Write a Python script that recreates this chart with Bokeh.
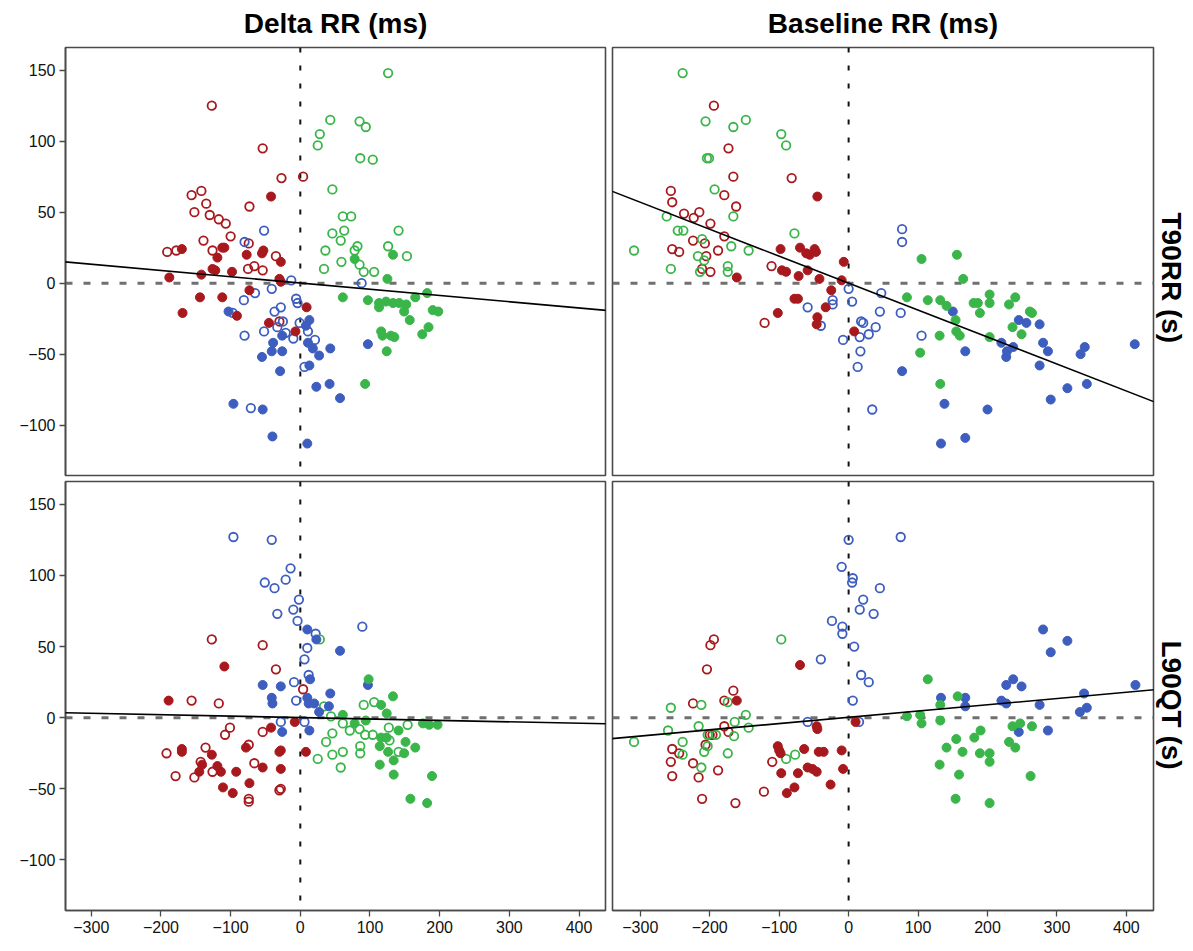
from bokeh.plotting import figure
from bokeh.models import Range1d, FixedTicker, Span, Slope, Title
from bokeh.layouts import column, row
from bokeh.embed import file_html
from bokeh.resources import INLINE

COL_TITLES = ["Delta RR (ms)", "Baseline RR (ms)"]
ROW_TITLES = ["T90RR (s)", "L90QT (s)"]
X_TICKS = [-300, -200, -100, 0, 100, 200, 300, 400]
Y_TICKS = [-100, -50, 0, 50, 100, 150]

RED = "#A8191E"
BLUE = "#3D5EBF"
GREEN = "#3AB54A"

# ---------------- top-left: Delta RR vs T90RR ----------------
TL_RED_OPEN = [(-127, 125), (-54, 95), (-27, 74), (4, 75), (-156, 62), (-142, 65), (-135, 56), (-152, 50),
               (-130, 48), (-117, 45), (-107, 42), (-73, 54), (-100, 33), (-139, 30), (-191, 22), (-178, 23),
               (-126, 23), (-74, 28), (-35, 19), (-75, 10), (-66, 12), (-54, 9), (-30, -27)]
TL_RED_FILL = [(-42, 61), (-170, 24), (-112, 25), (-109, 25), (-119, 18), (-77, 20), (-53, 23), (-55, 21),
               (-28, 15), (-126, 10), (-122, 9), (-98, 8), (-142, 6), (-188, 4), (-30, 3), (-73, -5),
               (-144, -10), (-112, -10), (-169, -21), (-91, -23), (-28, 1), (9, -17), (-45, -28), (-7, -34)]
TL_BLUE_OPEN = [(-52, 37), (-80, 29), (-13, 2), (-41, -4), (-65, -7), (-81, -12), (-6, -11), (88, 0),
                (-4, -14), (-28, -17), (-37, -20), (-97, -21), (-52, -34), (-33, -31), (-21, -35), (-10, -39),
                (-1, -28), (11, -34), (21, -40), (-80, -37), (-71, -88), (6, -59), (-25, -27)]
TL_BLUE_FILL = [(-103, -20), (13, -26), (8, -30), (-26, -37), (-39, -42), (-41, -48), (-26, -48), (-55, -52),
                (11, -42), (18, -46), (27, -51), (43, -46), (97, -43), (-29, -62), (13, -58), (23, -73),
                (42, -71), (57, -81), (-96, -85), (-54, -89), (-40, -108), (10, -113)]
TL_GREEN_OPEN = [(126, 148), (43, 115), (28, 105), (25, 97), (85, 114), (94, 110), (86, 88), (104, 87),
                 (46, 66), (61, 47), (73, 47), (46, 35), (63, 37), (58, 30), (141, 37), (36, 23), (82, 26),
                 (78, 23), (126, 26), (153, 19), (59, 15), (85, 13), (91, 8), (106, 8), (34, 10)]
TL_GREEN_FILL = [(78, 17), (133, 20), (125, 3), (61, -10), (182, -7), (165, -10), (97, -12), (113, -14),
                 (113, -17), (123, -13), (133, -14), (142, -14), (152, -15), (149, -20), (157, -26),
                 (190, -19), (198, -20), (184, -31), (175, -36), (116, -34), (118, -37), (130, -37),
                 (135, -38), (124, -48), (93, -71)]

# ---------------- top-right: Baseline RR vs T90RR ----------------
TR_GREEN_OPEN = [(-239, 148), (-206, 114), (-166, 110), (-148, 115), (-97, 105), (-90, 97), (-204, 88),
                 (-201, 88), (-193, 66), (-166, 47), (-262, 47), (-246, 37), (-238, 37), (-211, 31),
                 (-78, 35), (-169, 26), (-144, 23), (-309, 23), (-217, 19), (-208, 16), (-256, 10),
                 (-214, 8), (-174, 12), (-174, 8)]
TR_RED_OPEN = [(-194, 125), (-173, 95), (-166, 75), (-82, 74), (-256, 65), (-254, 57), (-179, 62),
               (-162, 54), (-237, 49), (-223, 46), (-215, 50), (-199, 42), (-179, 33), (-224, 30),
               (-207, 28), (-254, 24), (-244, 22), (-188, 23), (-205, 19), (-211, 10), (-199, 8),
               (-111, 12), (-121, -28)]
TR_RED_FILL = [(-45, 61), (-98, 24), (-70, 25), (-61, 21), (-56, 20), (-49, 24), (-47, 22), (-7, 15),
               (-96, 9), (-90, 8), (-72, 5), (-59, 9), (-42, 3), (-161, 4), (-10, 2), (-25, -5), (-78, -11),
               (-73, -11), (-102, -21), (-33, -17), (-45, -24), (-46, -29), (8, -34)]
TR_BLUE_OPEN = [(0, -4), (5, -13), (-23, -12), (-23, -15), (-59, -17), (-40, -30), (18, -27), (77, 38),
                (77, 29), (47, -7), (45, -20), (75, -21), (21, -28), (39, -31), (29, -36), (16, -38),
                (-8, -40), (17, -48), (13, -59), (105, -37), (34, -89)]
TR_BLUE_FILL = [(150, -20), (168, -48), (77, -62), (245, -26), (256, -28), (275, -29), (220, -42),
                (237, -45), (227, -52), (228, -48), (280, -42), (287, -48), (275, -58), (340, -45),
                (334, -50), (412, -43), (343, -71), (315, -74), (291, -82), (138, -85), (200, -89),
                (168, -109), (133, -113)]
TR_GREEN_FILL = [(105, 17), (156, 20), (165, 3), (84, -10), (114, -12), (132, -12), (141, -16), (154, -26),
                 (155, -34), (160, -37), (131, -37), (103, -49), (132, -71), (180, -14), (186, -14),
                 (189, -21), (203, -8), (203, -14), (203, -38), (231, -15), (240, -10), (236, -31),
                 (249, -36), (261, -20), (264, -21)]

# ---------------- bottom-left: Delta RR vs L90QT ----------------
BL_BLUE_OPEN = [(-96, 127), (-41, 125), (-14, 105), (-21, 97), (-51, 95), (-37, 91), (-2, 83), (-10, 76),
                (-4, 68), (-33, 73), (-9, 25), (-6, 12), (-28, -3), (89, 64), (22, 59), (10, 49), (6, 41),
                (12, 30), (6, -3)]
BL_BLUE_FILL = [(-54, 23), (-28, 22), (-41, 14), (-40, 10), (-26, -10), (10, 62), (23, 55), (57, 47),
                (14, 27), (97, 23), (43, 17), (10, 14), (12, 10), (20, 10), (41, 8), (27, 4), (13, -9)]
BL_RED_OPEN = [(-127, 55), (-54, 51), (-35, 34), (-156, 12), (-117, 10), (-101, -7), (-108, -12),
               (-54, -10), (-192, -25), (-136, -21), (-74, -19), (-143, -31), (-126, -38), (-66, -32),
               (-179, -41), (-152, -42), (4, 20), (-74, -57), (-74, -59), (-30, -51), (-28, -50)]
BL_RED_FILL = [(-109, 36), (-189, 12), (-42, -7), (-8, -3), (-170, -22), (-170, -24), (-127, -26),
               (-78, -21), (-28, -23), (-30, -24), (-141, -33), (-119, -34), (-114, -38), (-92, -38),
               (-54, -35), (-28, -36), (-145, -38), (8, -24), (-111, -49), (-97, -53), (-73, -46)]
BL_GREEN_OPEN = [(28, 55), (34, 8), (91, 9), (106, 11), (44, 1), (61, -4), (71, -9), (85, -8), (93, -12),
                 (104, -12), (127, -7), (154, -5), (46, -11), (37, -17), (86, -20), (86, -25), (61, -24),
                 (46, -26), (58, -35), (25, -29), (141, -24), (128, -16)]
BL_GREEN_FILL = [(98, 27), (133, 15), (116, 9), (124, 3), (61, 2), (94, -2), (78, -4), (176, -4), (185, -5),
                 (197, -5), (141, -9), (116, -14), (124, -14), (151, -17), (114, -20), (126, -24),
                 (165, -21), (149, -25), (134, -30), (114, -33), (134, -40), (189, -41), (158, -57),
                 (182, -60)]

# ---------------- bottom-right: Baseline RR vs L90QT ----------------
BR_BLUE_OPEN = [(0, 125), (-10, 106), (6, 98), (5, 95), (21, 83), (16, 76), (36, 73), (-24, 68), (-9, 64),
                (-9, 59), (8, 50), (-40, 41), (18, 30), (29, 25), (6, 12), (-59, -3), (15, -3), (75, 127),
                (45, 91)]
BR_BLUE_FILL = [(280, 62), (315, 54), (291, 46), (227, 23), (237, 27), (249, 22), (133, 14), (168, 14),
                (168, 8), (220, 12), (227, 10), (275, 9), (339, 17), (343, 7), (333, 4), (413, 23),
                (245, -10), (287, -9)]
BR_GREEN_FILL = [(114, 27), (157, 15), (132, 9), (84, 1), (103, 2), (105, -4), (132, -2), (190, -9),
                 (181, -14), (155, -15), (236, -6), (247, -4), (264, -6), (231, -17), (240, -21),
                 (141, -21), (164, -24), (189, -25), (203, -25), (203, -31), (131, -33), (159, -40),
                 (262, -41), (154, -57), (203, -60)]
BR_RED_OPEN = [(-194, 55), (-199, 51), (-204, 34), (-166, 19), (-179, 12), (-224, 10), (-200, -12),
               (-196, -12), (-179, -6), (-173, -10), (-254, -22), (-244, -25), (-206, -19), (-256, -31),
               (-224, -32), (-188, -37), (-254, -41), (-216, -42), (-110, -31), (-211, -57), (-163, -60),
               (-122, -52)]
BR_RED_FILL = [(-70, 37), (-161, 12), (-46, -6), (-45, -8), (10, -3), (-102, -20), (-100, -23), (-98, -25),
               (-64, -22), (-43, -24), (-36, -24), (-10, -23), (-59, -35), (-52, -36), (-46, -38),
               (-73, -39), (-97, -39), (-8, -36), (-26, -47), (-78, -49), (-89, -53)]
BR_GREEN_OPEN = [(-97, 55), (-256, 7), (-212, 9), (-174, 11), (-148, 2), (-164, -3), (-144, -7),
                 (-216, -6), (-260, -9), (-203, -12), (-191, -12), (-165, -13), (-309, -17), (-239, -17),
                 (-203, -20), (-208, -24), (-239, -26), (-174, -25), (-77, -26), (-90, -29), (-212, -35)]

# fitted lines (gradient, intercept)
FIT_TL = (-0.044, 0.1)
FIT_TR = (-0.19, 0.0)
FIT_BL = (-0.010, 0.1)
FIT_BR = (0.044, 0.3)

X_RANGE_L = (-337, 438)
X_RANGE_R = (-340, 439)
Y_RANGE = (-135.5, 166)

FONT = "Liberation Sans"


def panel(xr, groups, fit, left_axis, bottom_axis, top_title, right_title, right_offset,
          fw, fh, bl, br, bt, bb):
    p = figure(x_range=Range1d(*xr), y_range=Range1d(*Y_RANGE),
               frame_width=fw, frame_height=fh,
               x_axis_location="below" if bottom_axis else None,
               y_axis_location="left" if left_axis else None,
               min_border_left=bl, min_border_right=br, min_border_top=bt, min_border_bottom=bb,
               output_backend="svg", toolbar_location=None, tools="")
    p.xgrid.visible = False
    p.ygrid.visible = False
    p.outline_line_color = "#4a4a4a"
    p.outline_line_width = 1.6
    p.background_fill_color = "white"
    p.border_fill_color = "white"

    for ax, ticks in ((p.xaxis, X_TICKS), (p.yaxis, Y_TICKS)):
        ax.ticker = FixedTicker(ticks=ticks)
        ax.major_label_text_font = FONT
        ax.major_label_text_font_size = "16px"
        ax.major_label_text_color = "#111111"
        ax.major_tick_out = 6
        ax.major_tick_in = 0
        ax.major_tick_line_color = "#4a4a4a"
        ax.major_tick_line_width = 1.3
        ax.minor_tick_line_color = None
        ax.axis_line_color = "#4a4a4a"
        ax.axis_line_width = 1.6
        ax.major_label_standoff = 4

    p.add_layout(Span(location=0, dimension="height", line_color="#111111", line_width=2,
                      line_dash="5 13", level="underlay"))
    p.add_layout(Span(location=0, dimension="width", line_color="#707070", line_width=3,
                      line_dash="7 11", level="underlay"))

    for pts, color, filled in groups:
        xs = [a for a, b in pts]
        ys = [b for a, b in pts]
        if filled:
            p.scatter(xs, ys, marker="circle", size=9, fill_color=color, line_color=color, line_width=1)
        else:
            p.scatter(xs, ys, marker="circle", size=8.5, fill_color=None, line_color=color, line_width=1.8)

    p.add_layout(Slope(gradient=fit[0], y_intercept=fit[1], line_color="black", line_width=1.6))

    if top_title:
        p.title.text = top_title
        p.title.align = "center"
        p.title.vertical_align = "top"
        p.title.text_font = FONT
        p.title.text_font_style = "bold"
        p.title.text_font_size = "28px"
        p.title.text_color = "black"
        p.title.standoff = 14
    if right_title:
        p.add_layout(Title(text=right_title, align="left", text_font=FONT, text_font_style="bold",
                           text_font_size="28px", text_color="black", standoff=4,
                           offset=right_offset), "right")
    return p


tl = panel(X_RANGE_L,
           [(TL_RED_OPEN, RED, False), (TL_BLUE_OPEN, BLUE, False), (TL_GREEN_OPEN, GREEN, False),
            (TL_RED_FILL, RED, True), (TL_BLUE_FILL, BLUE, True), (TL_GREEN_FILL, GREEN, True)],
           FIT_TL, True, False, COL_TITLES[0], None, 0, 540, 428, 65, 3, 47, 3)
tr = panel(X_RANGE_R,
           [(TR_RED_OPEN, RED, False), (TR_BLUE_OPEN, BLUE, False), (TR_GREEN_OPEN, GREEN, False),
            (TR_RED_FILL, RED, True), (TR_BLUE_FILL, BLUE, True), (TR_GREEN_FILL, GREEN, True)],
           FIT_TR, False, False, COL_TITLES[1], ROW_TITLES[0], 165, 541, 428, 4, 40, 47, 3)
bl = panel(X_RANGE_L,
           [(BL_RED_OPEN, RED, False), (BL_BLUE_OPEN, BLUE, False), (BL_GREEN_OPEN, GREEN, False),
            (BL_RED_FILL, RED, True), (BL_BLUE_FILL, BLUE, True), (BL_GREEN_FILL, GREEN, True)],
           FIT_BL, True, True, None, None, 0, 540, 429, 65, 3, 3, 38)
br = panel(X_RANGE_R,
           [(BR_RED_OPEN, RED, False), (BR_BLUE_OPEN, BLUE, False), (BR_GREEN_OPEN, GREEN, False),
            (BR_RED_FILL, RED, True), (BR_BLUE_FILL, BLUE, True), (BR_GREEN_FILL, GREEN, True)],
           FIT_BR, False, True, None, ROW_TITLES[1], 159, 541, 429, 4, 40, 3, 38)

layout = column(row(tl, tr), row(bl, br))

with open("out.html", "w") as f:
    f.write(file_html(layout, INLINE))
